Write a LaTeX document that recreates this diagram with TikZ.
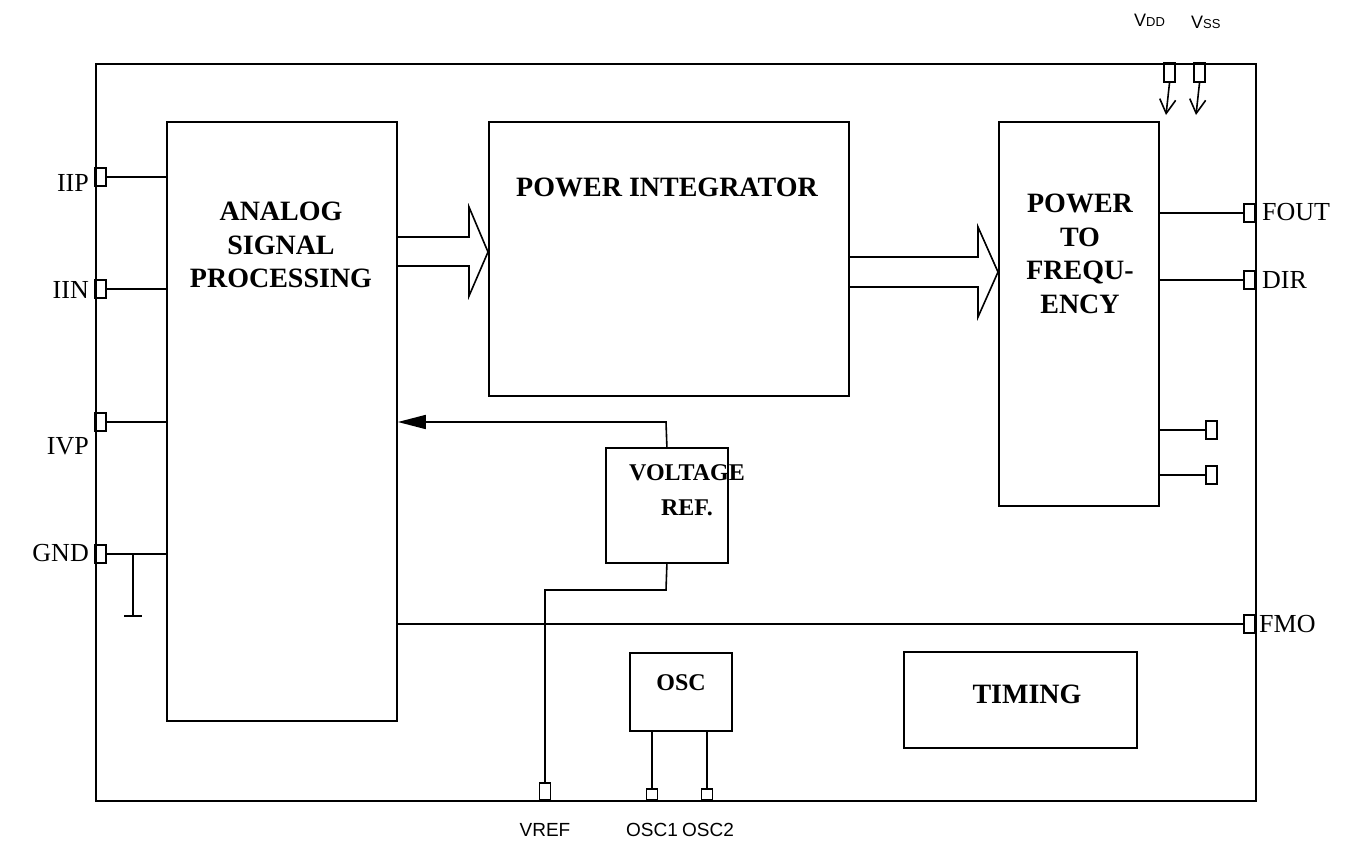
\documentclass[tikz,border=0pt]{standalone}
\usepackage{fontspec}
\setmainfont{Liberation Serif}
\newfontfamily\arialf{Liberation Sans}
\usetikzlibrary{arrows.meta}
\begin{document}
\begin{tikzpicture}[x=1pt,y=-1pt,
  blk/.style={draw,line width=1.8pt,inner sep=0pt,anchor=north west},
  pinbox/.style={draw,line width=1.7pt,inner sep=0pt,minimum width=11pt,minimum height=18pt},
  wire/.style={line width=1.6pt},
  head/.style={font=\fontsize{28}{33.5}\selectfont\bfseries,align=center,inner sep=0pt},
  headsm/.style={font=\fontsize{24}{35}\selectfont\bfseries,align=center,inner sep=0pt},
  pinlbl/.style={font=\fontsize{26}{30}\selectfont,inner sep=0pt},
  sanslbl/.style={font=\arialf\fontsize{19}{22}\selectfont,inner sep=0pt}
]
\useasboundingbox (0,0) rectangle (1346,843);
% outer chip
\node[blk,minimum width=1160pt,minimum height=737pt] (chip) at (95,63) {};
% blocks
\node[blk,minimum width=230pt,minimum height=599pt] (asp) at (166,121) {};
\node[head] (asptxt) at (281,245) {ANALOG\\SIGNAL\\PROCESSING};
\node[blk,minimum width=360pt,minimum height=274pt] (pint) at (488,121) {};
\node[head] (pinttxt) at (667,187) {POWER INTEGRATOR};
\node[blk,minimum width=160pt,minimum height=384pt] (ptf) at (998,121) {};
\node[head] (ptftxt) at (1080,254) {POWER\\TO\\FREQU-\\ENCY};
\node[blk,minimum width=122pt,minimum height=115pt] (vref) at (605,447) {};
\node[headsm] (vreftxt) at (687,490) {VOLTAGE\\REF.};
\node[blk,minimum width=102pt,minimum height=78pt] (osc) at (629,652) {};
\node[headsm] (osctxt) at (681,683) {OSC};
\node[blk,minimum width=233pt,minimum height=96pt] (timing) at (903,651) {};
\node[head] (timingtxt) at (1027,694) {TIMING};
% left pins
\node[pinbox] (iip) at (100.5,177) {};
\node[pinbox] (iin) at (100.5,289) {};
\node[pinbox] (ivp) at (100.5,422) {};
\node[pinbox] (gnd) at (100.5,554) {};
\node[pinlbl,anchor=east] (liip) at (89,183) {IIP};
\node[pinlbl,anchor=east] (liin) at (89,290) {IIN};
\node[pinlbl,anchor=east] (livp) at (89,446) {IVP};
\node[pinlbl,anchor=east] (lgnd) at (89,553) {GND};
\draw[wire] (iip.east) -- (iip.east -| asp.west);
\draw[wire] (iin.east) -- (iin.east -| asp.west);
\draw[wire] (ivp.east) -- (ivp.east -| asp.west);
\draw[wire] (gnd.east) -- (gnd.east -| asp.west);
\coordinate (gj) at (133,554);
\coordinate (gb) at (133,616);
\coordinate (gbl) at (124,616);
\coordinate (gbr) at (142,616);
\draw[wire] (gj) -- (gb);
\draw[wire] (gbl) -- (gbr);
% right pins
\node[pinbox] (fout) at (1249.5,213) {};
\node[pinbox] (dir) at (1249.5,280) {};
\node[pinbox] (fmo) at (1249.5,624) {};
\node[pinlbl,anchor=west] (lfout) at (1262,212) {FOUT};
\node[pinlbl,anchor=west] (ldir) at (1262,280) {DIR};
\node[pinlbl,anchor=west] (lfmo) at (1259,624) {FMO};
\draw[wire] (fout.west) -- (fout.west -| ptf.east);
\draw[wire] (dir.west) -- (dir.west -| ptf.east);
\draw[wire] (fmo.west) -- (fmo.west -| asp.east);
% small pins of power-to-frequency
\node[pinbox] (px1) at (1211.5,430) {};
\node[pinbox] (px2) at (1211.5,475) {};
\draw[wire] (px1.west) -- (px1.west -| ptf.east);
\draw[wire] (px2.west) -- (px2.west -| ptf.east);
% top pins
\node[pinbox,minimum height=19pt] (vdd) at (1169.5,72.5) {};
\node[pinbox,minimum height=19pt] (vss) at (1199.5,72.5) {};
\coordinate (vddt) at (1166,115);
\coordinate (vsst) at (1196,115);
\draw[wire,-{Straight Barb[length=14pt,width=16pt,line width=1.6pt]}] (vdd.south) -- (vddt);
\draw[wire,-{Straight Barb[length=14pt,width=16pt,line width=1.6pt]}] (vss.south) -- (vsst);
\node[sanslbl,font=\arialf\fontsize{18}{20}\selectfont,anchor=base west] (lvdd) at (1134,27) {V{\fontsize{13}{14}\selectfont DD}};
\node[sanslbl,font=\arialf\fontsize{18}{20}\selectfont,anchor=base west] (lvss) at (1191,29) {V{\fontsize{13}{14}\selectfont SS}};
% bottom pins
\node[pinbox,minimum height=17pt] (vrefp) at (545,791.5) {};
\node[pinbox,minimum height=11pt] (osc1) at (652,794.5) {};
\node[pinbox,minimum height=11pt] (osc2) at (707,794.5) {};
\node[sanslbl] (lvref) at (545,830) {VREF};
\node[sanslbl] (losc1) at (652,830) {OSC1};
\node[sanslbl] (losc2) at (708,830) {OSC2};
\coordinate (vrefbend) at (666,590);
\draw[wire] (vref.south) -- (vrefbend) -| (vrefp.north);
\draw[wire] (osc1.north) -- (osc1.north |- osc.south);
\draw[wire] (osc2.north) -- (osc2.north |- osc.south);
% voltage reference feedback arrow
\coordinate (fbk) at (666,422);
\draw[wire,-{Triangle[length=28pt,width=14pt]}] (vref.north) -- (fbk) -- (fbk -| asp.east);
% hollow block arrows
\draw[wire,line join=miter] (asp.east |- 0,237) -- (469,237) -- (469,207) -- (pint.west |- 0,252) -- (469,296) -- (469,266) -- (asp.east |- 0,266);
\draw[wire,line join=miter] (pint.east |- 0,257) -- (978,257) -- (978,227) -- (ptf.west |- 0,272) -- (978,317) -- (978,287) -- (pint.east |- 0,287);
\end{tikzpicture}
\end{document}
